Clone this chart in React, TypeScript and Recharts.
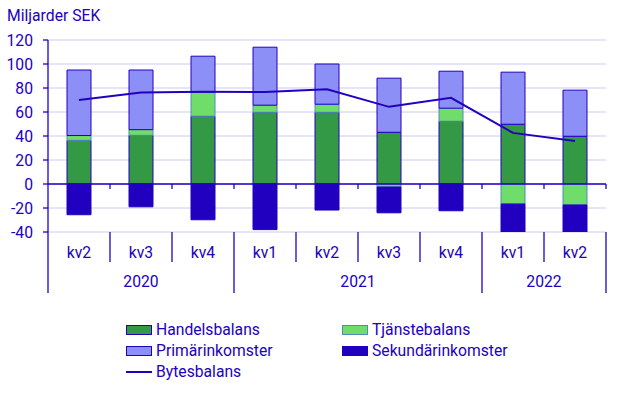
import React from 'react';
import { ComposedChart, Bar, Line, XAxis, YAxis, CartesianGrid, ReferenceLine } from 'recharts';

const quarters = ['kv2', 'kv3', 'kv4', 'kv1', 'kv2', 'kv3', 'kv4', 'kv1', 'kv2'];
const years = ['2020', '2020', '2020', '2021', '2021', '2021', '2021', '2022', '2022'];
const handelsbalans = [36.4, 40.6, 56.5, 59.8, 59.8, 43.1, 52.3, 49.8, 39.8];
const tjanstebalans = [4.0, 4.7, 20.0, 5.9, 6.7, -2.5, 10.9, -16.7, -17.5];
const primarinkomster = [54.6, 49.7, 30.0, 48.3, 33.5, 45.1, 30.8, 43.4, 38.4];
const sekundarinkomster = [-25.6, -19.0, -29.8, -38.0, -21.7, -21.5, -22.3, -33.9, -24.8];
const bytesbalans = [70.0, 76.2, 76.8, 76.6, 79.0, 64.3, 71.8, 42.6, 35.9];
const yTicks = [-40, -20, 0, 20, 40, 60, 80, 100, 120];

const data = quarters.map((q, i) => ({
  key: `${years[i]}-${q}`,
  handels: handelsbalans[i],
  tjanst: tjanstebalans[i],
  prim: primarinkomster[i],
  sek: sekundarinkomster[i],
  bytes: bytesbalans[i],
}));

const TEXT = '#2200c0';
const GREEN = '#339944';
const LIGHT_GREEN = '#70dd6a';
const LIGHT_GREEN_EDGE = '#4f8cb8';
const LAVENDER = '#8c8ff5';
const DARK_BLUE = '#2200c0';
const GRID = '#cdcaf3';
const FONT = 'Roboto, "Liberation Sans", Arial, sans-serif';
const FS = 15.7;

const W = 629;
const H = 397;
const MARGIN = { top: 40, right: 23, bottom: 100, left: 0 };
const Y_AXIS_W = 48;
const X_AXIS_H = 65;
const PLOT_W = W - MARGIN.left - MARGIN.right - Y_AXIS_W;
const PLOT_H = H - MARGIN.top - MARGIN.bottom - X_AXIS_H;
const CAT_W = PLOT_W / quarters.length;
const Y_MIN = yTicks[0];
const Y_MAX = yTicks[yTicks.length - 1];

const QuarterTick = (props: any) => {
  const { x, y, index } = props;
  const half = CAT_W / 2;
  const zeroY = y - ((0 - Y_MIN) / (Y_MAX - Y_MIN)) * PLOT_H;
  const year = years[index];
  const lastOfYear = index === quarters.length - 1 || years[index + 1] !== year;
  const firstOfYear = index === 0 || years[index - 1] !== year;
  const count = years.filter((v) => v === year).length;
  return (
    <g>
      <text x={x} y={y + 26} textAnchor="middle" fill={TEXT} fontSize={FS} fontFamily={FONT}>
        {quarters[index]}
      </text>
      <line x1={x + half} x2={x + half} y1={y} y2={y + (lastOfYear ? 61 : 30)} stroke={TEXT} strokeWidth={1.3} />
      <line x1={x + half} x2={x + half} y1={zeroY} y2={zeroY + 5} stroke={TEXT} strokeWidth={1.3} />
      {index === 0 && (
        <line x1={x - half} x2={x - half} y1={y} y2={y + 61} stroke={TEXT} strokeWidth={1.3} />
      )}
      {firstOfYear && (
        <text x={x - half + (count * CAT_W) / 2} y={y + 55} textAnchor="middle" fill={TEXT} fontSize={FS} fontFamily={FONT}>
          {year}
        </text>
      )}
    </g>
  );
};

const legendItems = [
  { name: 'Handelsbalans', fill: GREEN, stroke: DARK_BLUE, col: 0, row: 0 },
  { name: 'Tjänstebalans', fill: LIGHT_GREEN, stroke: LIGHT_GREEN_EDGE, col: 1, row: 0 },
  { name: 'Primärinkomster', fill: LAVENDER, stroke: DARK_BLUE, col: 0, row: 1 },
  { name: 'Sekundärinkomster', fill: DARK_BLUE, stroke: DARK_BLUE, col: 1, row: 1 },
];

export default function App() {
  const colX = [126, 342];
  const rowY = [335, 356, 377];
  return (
    <div style={{ position: 'absolute', left: 0, top: 0, width: W, height: H, fontFamily: FONT }}>
      <ComposedChart width={W} height={H} data={data} margin={MARGIN} stackOffset="sign" barCategoryGap={0}>
        <CartesianGrid vertical={false} stroke={GRID} />
        <XAxis
          dataKey="key"
          interval={0}
          height={X_AXIS_H}
          axisLine={false}
          tickLine={false}
          tickSize={0}
          tickMargin={0}
          tick={(p: any) => <QuarterTick {...p} />}
        />
        <YAxis
          width={Y_AXIS_W}
          domain={[Y_MIN, Y_MAX]}
          ticks={yTicks}
          allowDataOverflow
          axisLine={{ stroke: TEXT, strokeWidth: 1.3 }}
          tickLine={{ stroke: TEXT, strokeWidth: 1.3 }}
          tickSize={5}
          tickMargin={10}
          tick={{ fill: TEXT, fontSize: FS, fontFamily: FONT }}
        />
        <Bar dataKey="handels" stackId="a" barSize={24} fill={GREEN} stroke={DARK_BLUE} strokeWidth={1} isAnimationActive={false} />
        <Bar dataKey="tjanst" stackId="a" barSize={24} fill={LIGHT_GREEN} stroke={LIGHT_GREEN_EDGE} strokeWidth={1} isAnimationActive={false} />
        <Bar dataKey="prim" stackId="a" barSize={24} fill={LAVENDER} stroke={DARK_BLUE} strokeWidth={1} isAnimationActive={false} />
        <Bar dataKey="sek" stackId="a" barSize={24} fill={DARK_BLUE} stroke={DARK_BLUE} strokeWidth={1} isAnimationActive={false} />
        <ReferenceLine y={0} stroke={TEXT} strokeWidth={1.5} />
        <Line dataKey="bytes" type="linear" stroke={DARK_BLUE} strokeWidth={2} dot={false} activeDot={false} isAnimationActive={false} />
      </ComposedChart>
      <svg width={W} height={H} style={{ position: 'absolute', left: 0, top: 0, pointerEvents: 'none' }}>
        <text x={7} y={21} fill={TEXT} fontSize={FS} fontFamily={FONT}>Miljarder SEK</text>
        {legendItems.map((it) => (
          <g key={it.name}>
            <rect x={colX[it.col] + 0.5} y={rowY[it.row] - 9.5} width={25} height={9} fill={it.fill} stroke={it.stroke} strokeWidth={1} />
            <text x={colX[it.col] + 30} y={rowY[it.row]} fill={TEXT} fontSize={FS} fontFamily={FONT}>{it.name}</text>
          </g>
        ))}
        <line x1={colX[0]} x2={colX[0] + 26} y1={rowY[2] - 5} y2={rowY[2] - 5} stroke={DARK_BLUE} strokeWidth={2} />
        <text x={colX[0] + 30} y={rowY[2]} fill={TEXT} fontSize={FS} fontFamily={FONT}>Bytesbalans</text>
      </svg>
    </div>
  );
}
